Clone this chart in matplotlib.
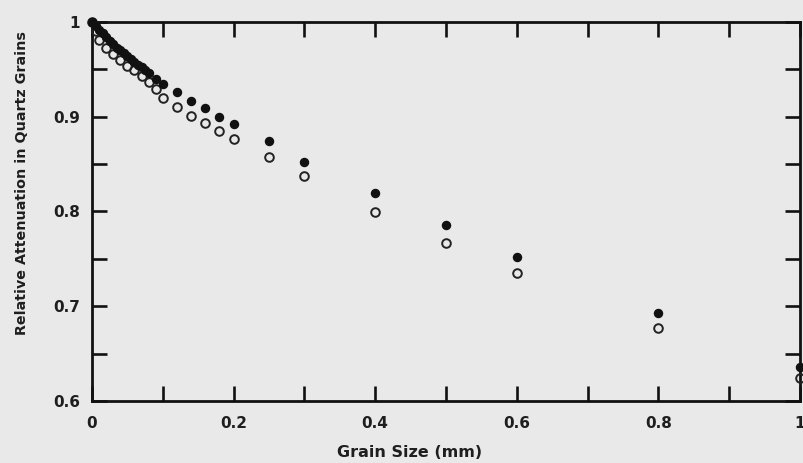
import matplotlib
matplotlib.use("Agg")
import matplotlib.pyplot as plt
from matplotlib.ticker import MultipleLocator

# Grain size (mm) and relative attenuation
size_filled = [0.0, 0.005, 0.01, 0.015, 0.02, 0.025, 0.03, 0.035, 0.04, 0.045,
               0.05, 0.055, 0.06, 0.065, 0.07, 0.075, 0.08, 0.09, 0.10, 0.12,
               0.14, 0.16, 0.18, 0.20, 0.25, 0.30, 0.40, 0.50, 0.60, 0.80, 1.00]
att_filled = [1.000, 0.996, 0.992, 0.988, 0.984, 0.980, 0.977, 0.973, 0.970, 0.967,
              0.964, 0.961, 0.958, 0.955, 0.952, 0.949, 0.946, 0.940, 0.934, 0.926,
              0.917, 0.909, 0.900, 0.892, 0.874, 0.852, 0.820, 0.786, 0.752, 0.693, 0.636]

size_open = [0.0, 0.005, 0.01, 0.02, 0.03, 0.04, 0.05, 0.06, 0.07, 0.08, 0.09, 0.10,
             0.12, 0.14, 0.16, 0.18, 0.20, 0.25, 0.30, 0.40, 0.50, 0.60, 0.80, 1.00]
att_open = [1.000, 0.990, 0.981, 0.973, 0.966, 0.960, 0.954, 0.949, 0.943, 0.937, 0.929, 0.920,
            0.910, 0.901, 0.893, 0.885, 0.876, 0.857, 0.837, 0.799, 0.767, 0.735, 0.677, 0.624]

x_ticks = [0, 0.2, 0.4, 0.6, 0.8, 1.0]
x_tick_labels = ["0", "0.2", "0.4", "0.6", "0.8", "1"]
y_ticks = [0.6, 0.7, 0.8, 0.9, 1.0]
y_tick_labels = ["0.6", "0.7", "0.8", "0.9", "1"]

plt.rcParams["font.family"] = ["DejaVu Sans"]
plt.rcParams["font.weight"] = "bold"

bg = "#e9e9e9"
ink = "#1e1e1e"
fig = plt.figure(figsize=(8.04, 4.63), dpi=100, facecolor=bg)
ax = fig.add_axes([0.1144, 0.134, 0.8806, 0.8186], facecolor=bg)

ax.plot(size_open, att_open, linestyle="none", marker="o", ms=6.2,
        mfc="none", mec="#222222", mew=1.4, clip_on=False, zorder=3)
ax.plot(size_filled, att_filled, linestyle="none", marker="o", ms=5.8,
        mfc="#111111", mec="#111111", clip_on=False, zorder=4)

ax.set_xlim(0, 1.0)
ax.set_ylim(0.6, 1.0)
ax.set_xticks(x_ticks)
ax.set_xticklabels(x_tick_labels)
ax.set_yticks(y_ticks)
ax.set_yticklabels(y_tick_labels)
ax.xaxis.set_minor_locator(MultipleLocator(0.1))
ax.yaxis.set_minor_locator(MultipleLocator(0.05))

ax.tick_params(which="both", direction="in", top=True, right=True,
               width=1.9, color="#111111", length=11)
ax.tick_params(axis="x", which="major", labelsize=11, pad=11)
ax.tick_params(axis="y", which="major", labelsize=11, pad=8.5)
for lbl in ax.get_xticklabels() + ax.get_yticklabels():
    lbl.set_fontweight("bold")
    lbl.set_color(ink)

for side in ax.spines.values():
    side.set_linewidth(2.0)
    side.set_color("#111111")

ax.text(0.448, -0.137, "Grain Size (mm)", transform=ax.transAxes,
        ha="center", va="center", fontsize=11.5, fontweight="bold", color=ink)
fig.text(22 / 804, 1 - 183 / 463, "Relative Attenuation in Quartz Grains",
         rotation=90, ha="center", va="center", fontsize=10.3,
         fontweight="bold", color=ink)

fig.savefig("out.png", dpi=100, facecolor=bg)
